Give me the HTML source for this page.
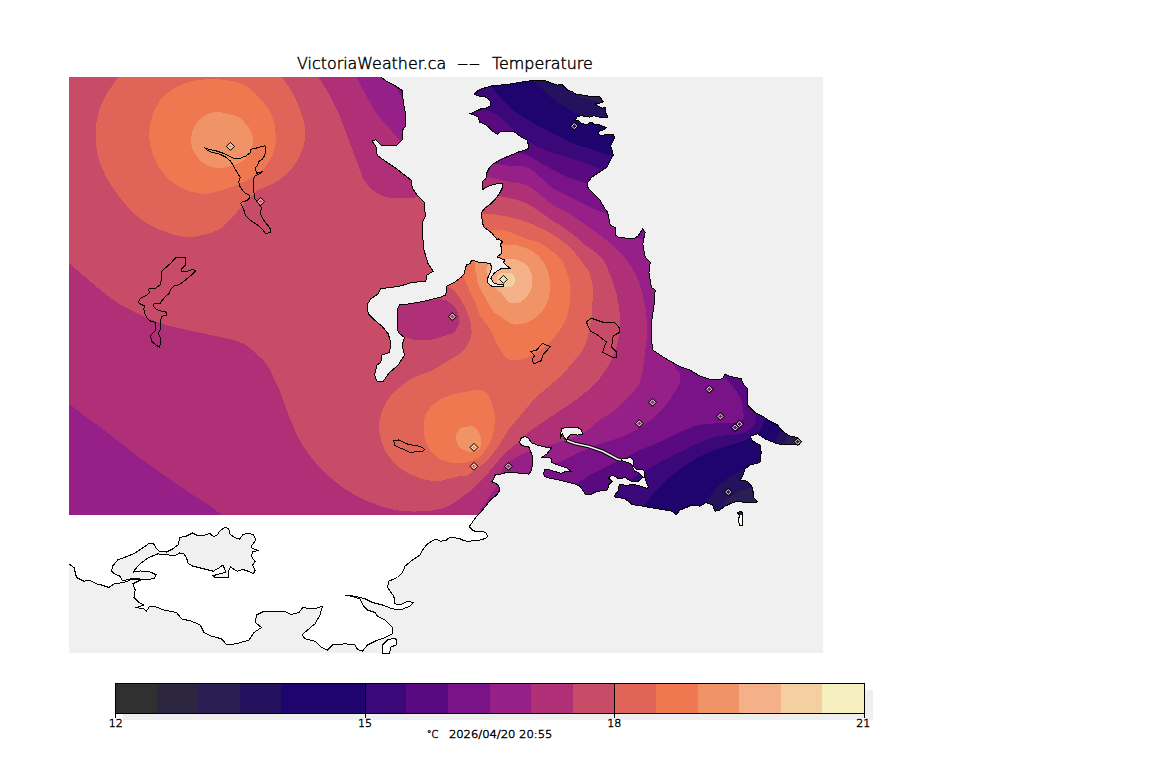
<!DOCTYPE html>
<html><head><meta charset="utf-8"><title>VictoriaWeather.ca -- Temperature</title>
<style>html,body{margin:0;padding:0;background:#fff;}svg{display:block}
.t{font-family:"DejaVu Sans","Liberation Sans",sans-serif;font-weight:200;fill:#000;stroke:#000;stroke-width:0.45px}</style></head>
<body><svg width="1152" height="768" viewBox="0 0 1152 768">
<defs><clipPath id="land"><path d="M69 77 380.8 77 386.4 81.2 394.2 85.1 402 90.3 403.3 102 405.9 115.1 405.9 125.5 402 130.7 402 139.8 396.8 145 381.1 145 375.9 139.8 372 141.1 375.9 146.3 377.2 155.4 386.4 161.9 394.2 167.1 404.6 175 411.1 180.2 412.4 188 417.6 195.8 424.1 202.3 425.4 216.6 422.5 222 422.8 237.5 424.1 250.5 428 263.5 433.2 271.3 427 275 425.8 281.2 412 282.5 399.5 286.2 380.8 288.8 378.2 293.8 370.8 298.8 367 305 368.2 313.8 374.5 320 382 326.2 388.2 333.8 390.8 342.5 389.5 352.5 382 355 380.8 362.5 377 365 374.5 375 377 381.2 383.2 381.2 389.5 372.5 398.2 365 404.5 355 402 345 404.5 337.5 398.2 332.5 397 322.5 397 310 399.5 305 409.5 303.8 424.5 301.2 439.5 297.5 445.8 295 447 286.2 455 281.9 457.3 280.3 461.3 277.2 464.4 273.3 465.2 268.6 466.7 264.7 469.8 263.9 471.4 260.8 474.5 260.8 478.4 262 486.3 262.7 490.5 263.9 491.7 267.8 490.5 271.7 488.6 275.6 487.4 279.5 487.8 282.7 490.9 285.8 494.8 287 503.4 286.2 503.4 284.2 497.2 284.2 494.1 283 492.5 281.1 490.9 278.4 491.7 276.4 494.1 273.3 497.2 270.9 501.1 268.6 505.8 268.2 510.1 268.2 506.6 265.5 503.4 262.3 505 260 502.7 259.2 497.2 256.9 501.9 253 501.9 249.1 500.3 244.4 502.7 242 498.8 238.9 497 239.5 492 233.2 483.9 227 482.5 223.1 481.8 217.6 481.8 212 485.3 207.8 490.9 203.6 495.1 199.4 499.3 193.9 502.1 188.3 502.1 183.4 495.1 184.1 488.1 186.2 482.5 189.7 482.5 181.3 486 178.5 486.7 173 489.3 168 493.4 163.8 500.4 159.6 508.8 156.1 518.5 152 525.5 149.9 529 147.8 528.3 144.3 526.9 140.1 521.3 137.3 517.1 133.8 513 131 506 131 500.4 131.7 497.6 134.5 492.1 131 489.3 127.6 484.4 124.1 479.5 122 478.1 117.1 473.9 115 470.5 113.6 475.3 111.5 480.9 108.8 486.5 108.1 490 106 490.7 101.8 487.9 98.3 484 96.2 479.5 96.2 473.9 94.1 479.5 89.5 492 85.8 507 84.5 522 82 534.5 80.2 543.6 80.2 549.2 82.3 557.6 85.1 561.7 84.4 567.3 89.9 572.9 92 575.7 94.1 585.4 95.5 593.8 96.9 599.4 96.2 603.6 101.8 600 103 595.2 103.9 598 106 602.2 108.1 605 107.4 605.6 112.2 607.7 117.1 599.4 117.1 593.8 115.7 589.6 117.1 585.4 116.4 581.3 115.7 577.1 117.1 575 120.6 578.5 120.6 581.3 123.4 586.8 124.8 589.6 122.7 591.5 122.2 593.8 124.1 599.4 124.8 606.3 127.6 603.6 129.7 599.4 131 598 133.1 600.8 135.9 606.3 134.5 613.3 134.5 614.7 137.3 611.9 142.9 610.5 145.7 611.9 149.9 613.3 155.4 610.5 159.6 607 167 599.5 172 592 177 587 183.2 588.2 188.2 594.5 194.5 599.5 199.5 604.5 208.2 607.8 212.5 610.2 225 616 228 615.2 235 619 237.5 634 238.8 637.8 236.2 642.8 228.8 645.2 232.5 644 237.5 642.8 243.8 645.2 257.5 650.2 262.5 649 272.5 651.5 287.5 655.2 290 654 305 651.5 322.5 651.5 340 652.8 350 664 357.5 679 366.2 690 370 700 376.2 712.5 380 722.5 378.8 725 373.8 729 376 741.2 378.8 743.8 385 747.5 388.8 747.5 405 755 412.5 762.5 416.2 770 421.2 777.5 425 782.5 431.2 790 436.2 797.5 437.5 801.2 441.2 798.8 445 792 444 785 445 777.5 443.8 770 441 765 438.8 757.5 433.8 750 436.2 752.5 441 760 445 761.2 452.5 760 462.5 750 465 745 469 742.5 476.2 740 480 747.5 481.2 752.5 487.5 753.8 497.5 757.5 502 745 502.5 737.5 501.2 730 503.8 725 506.2 720 510 715 511.2 712.5 505 706.2 502.5 700 506.2 692.5 505 687.5 507 680 510 676.2 515 672.5 511.2 665 510 657.5 508.8 650 507.5 643.4 506.3 638.8 505.5 632.5 504.7 628.6 501.6 624.7 498.4 618.4 497.7 614.5 496.9 615.3 493.8 617.7 492.2 618.4 489.1 618.4 486.7 620 484.4 623.1 484.8 627 485.5 632.5 484.4 637.2 485.2 641.9 486.7 646.6 488.3 648.9 487.5 646.6 482.8 645 478.1 644.6 472.7 643.4 469.5 636.4 469.5 634 467.2 633.3 464.1 634 460.9 630.2 457.4 626.3 458.6 622.3 459 619 459.5 621.6 460.2 624.7 461.7 627.8 462.5 631 464 632.5 465.6 633.3 468.8 634.8 471.1 638.8 472.7 641.9 475.8 643 477.3 640.3 479.7 637.2 482 632.5 481.6 627 479.3 625.5 477 623.1 478.1 617.7 478.9 616.9 477.3 612.2 475 608.3 478.1 612.2 481.3 610.6 482.8 608.3 485.2 608.3 487.5 606.7 490.6 602.8 490.6 597.3 491.4 595 492.6 591.5 494.3 585.9 495 583.1 490.8 580.3 486.7 574.8 483.9 566.4 481.8 558 479.7 549.7 478.3 545 476.5 543.4 474.1 544.8 469.9 549.7 469.9 555 471.5 560.8 473.4 566.4 471.3 571.3 471.3 566.4 467.8 558 465.1 551.8 462.3 551.1 458.1 542 457.4 546.9 453.9 551.8 447.6 545 447 538.5 445.5 531.6 442.8 528.1 437.9 524.6 436.5 520.4 438.6 519.7 442.8 521.8 445.5 528.8 446.9 530.2 450.4 532.3 456 532.3 465.7 530.9 471.3 528.8 474.1 521.8 473.4 514.8 472.7 507.9 472 500.9 474.1 495.3 474.8 493.9 478.3 491.8 481.8 495.3 483.2 498.8 485.3 499.5 490.8 496.7 495 491.1 499.2 485.6 506.2 480 513.1 476.9 515.9 472 522.7 469.1 526.6 473 530.5 475.9 531.5 482.7 531.5 485.7 532.5 487.6 536.4 485.7 538.4 478.8 540.3 467.1 541.3 463.2 540.3 459.3 538.4 451.5 537.4 447.6 538.4 446.6 540.3 440.7 541.3 436.8 539.3 432.9 540.3 430 542.3 427.5 543.8 422.5 550 420 555 412.5 560 405 566.2 402.5 572.5 397.5 577.5 388.8 581.2 387.5 587.5 393.8 596.2 395 603.8 400 605 407.5 601.2 413.8 602.5 410 606.2 400 610 392.5 608.8 382.5 605 372.5 602.5 365 598.8 355 596.2 345 595 352.5 596.5 360 599 363.8 606.2 367.5 610 375 612.5 377.5 616.2 385 620 392.5 627.5 392.5 633.8 385 637.5 375 641.2 367.5 645 362.5 651.2 357.5 649.5 355 645 345 643.8 332.5 645 327.5 650 321.5 647.5 315 641.2 305 638.8 302 635 307.5 630 315 623.8 320 615 322.5 606.2 314 608.8 310 608.8 302.8 607.5 299 612.5 291.5 614.5 284 611.2 276.5 611.2 264 611.2 256.5 615 255.2 622.5 261.5 627.5 254 632.5 249 640 236.5 643.8 226.5 644.5 221.5 638.8 211.5 636.2 204 632.5 200.2 625 191.5 621.2 181.5 618.8 176.5 612.5 164 610 154 606.2 149 607 146.5 611.2 144 609 136.5 607.5 144 605 139 602.5 134 597.5 135.2 590 132.8 583.8 141.5 579.5 131.5 579.5 124 582.5 114 583.8 109 587.5 101.5 585 96.5 583.8 89 580 84 581.2 76.5 577.5 74 567.5 69 563.8ZM737.5 512.5 741.2 511.2 743 514 742 520 742.5 525 740 526.2 738.2 520 739.5 516ZM382.5 653 382.5 645 387.5 640 395 638 397 641.2 396.2 645 391 647 389.5 653Z" shape-rendering="crispEdges"/></clipPath>
<clipPath id="dat"><rect x="69" y="77" width="754" height="438"/></clipPath></defs>
<rect x="69" y="77" width="754" height="576" fill="#f0f0f0"/>
<path d="M69 77 380.8 77 386.4 81.2 394.2 85.1 402 90.3 403.3 102 405.9 115.1 405.9 125.5 402 130.7 402 139.8 396.8 145 381.1 145 375.9 139.8 372 141.1 375.9 146.3 377.2 155.4 386.4 161.9 394.2 167.1 404.6 175 411.1 180.2 412.4 188 417.6 195.8 424.1 202.3 425.4 216.6 422.5 222 422.8 237.5 424.1 250.5 428 263.5 433.2 271.3 427 275 425.8 281.2 412 282.5 399.5 286.2 380.8 288.8 378.2 293.8 370.8 298.8 367 305 368.2 313.8 374.5 320 382 326.2 388.2 333.8 390.8 342.5 389.5 352.5 382 355 380.8 362.5 377 365 374.5 375 377 381.2 383.2 381.2 389.5 372.5 398.2 365 404.5 355 402 345 404.5 337.5 398.2 332.5 397 322.5 397 310 399.5 305 409.5 303.8 424.5 301.2 439.5 297.5 445.8 295 447 286.2 455 281.9 457.3 280.3 461.3 277.2 464.4 273.3 465.2 268.6 466.7 264.7 469.8 263.9 471.4 260.8 474.5 260.8 478.4 262 486.3 262.7 490.5 263.9 491.7 267.8 490.5 271.7 488.6 275.6 487.4 279.5 487.8 282.7 490.9 285.8 494.8 287 503.4 286.2 503.4 284.2 497.2 284.2 494.1 283 492.5 281.1 490.9 278.4 491.7 276.4 494.1 273.3 497.2 270.9 501.1 268.6 505.8 268.2 510.1 268.2 506.6 265.5 503.4 262.3 505 260 502.7 259.2 497.2 256.9 501.9 253 501.9 249.1 500.3 244.4 502.7 242 498.8 238.9 497 239.5 492 233.2 483.9 227 482.5 223.1 481.8 217.6 481.8 212 485.3 207.8 490.9 203.6 495.1 199.4 499.3 193.9 502.1 188.3 502.1 183.4 495.1 184.1 488.1 186.2 482.5 189.7 482.5 181.3 486 178.5 486.7 173 489.3 168 493.4 163.8 500.4 159.6 508.8 156.1 518.5 152 525.5 149.9 529 147.8 528.3 144.3 526.9 140.1 521.3 137.3 517.1 133.8 513 131 506 131 500.4 131.7 497.6 134.5 492.1 131 489.3 127.6 484.4 124.1 479.5 122 478.1 117.1 473.9 115 470.5 113.6 475.3 111.5 480.9 108.8 486.5 108.1 490 106 490.7 101.8 487.9 98.3 484 96.2 479.5 96.2 473.9 94.1 479.5 89.5 492 85.8 507 84.5 522 82 534.5 80.2 543.6 80.2 549.2 82.3 557.6 85.1 561.7 84.4 567.3 89.9 572.9 92 575.7 94.1 585.4 95.5 593.8 96.9 599.4 96.2 603.6 101.8 600 103 595.2 103.9 598 106 602.2 108.1 605 107.4 605.6 112.2 607.7 117.1 599.4 117.1 593.8 115.7 589.6 117.1 585.4 116.4 581.3 115.7 577.1 117.1 575 120.6 578.5 120.6 581.3 123.4 586.8 124.8 589.6 122.7 591.5 122.2 593.8 124.1 599.4 124.8 606.3 127.6 603.6 129.7 599.4 131 598 133.1 600.8 135.9 606.3 134.5 613.3 134.5 614.7 137.3 611.9 142.9 610.5 145.7 611.9 149.9 613.3 155.4 610.5 159.6 607 167 599.5 172 592 177 587 183.2 588.2 188.2 594.5 194.5 599.5 199.5 604.5 208.2 607.8 212.5 610.2 225 616 228 615.2 235 619 237.5 634 238.8 637.8 236.2 642.8 228.8 645.2 232.5 644 237.5 642.8 243.8 645.2 257.5 650.2 262.5 649 272.5 651.5 287.5 655.2 290 654 305 651.5 322.5 651.5 340 652.8 350 664 357.5 679 366.2 690 370 700 376.2 712.5 380 722.5 378.8 725 373.8 729 376 741.2 378.8 743.8 385 747.5 388.8 747.5 405 755 412.5 762.5 416.2 770 421.2 777.5 425 782.5 431.2 790 436.2 797.5 437.5 801.2 441.2 798.8 445 792 444 785 445 777.5 443.8 770 441 765 438.8 757.5 433.8 750 436.2 752.5 441 760 445 761.2 452.5 760 462.5 750 465 745 469 742.5 476.2 740 480 747.5 481.2 752.5 487.5 753.8 497.5 757.5 502 745 502.5 737.5 501.2 730 503.8 725 506.2 720 510 715 511.2 712.5 505 706.2 502.5 700 506.2 692.5 505 687.5 507 680 510 676.2 515 672.5 511.2 665 510 657.5 508.8 650 507.5 643.4 506.3 638.8 505.5 632.5 504.7 628.6 501.6 624.7 498.4 618.4 497.7 614.5 496.9 615.3 493.8 617.7 492.2 618.4 489.1 618.4 486.7 620 484.4 623.1 484.8 627 485.5 632.5 484.4 637.2 485.2 641.9 486.7 646.6 488.3 648.9 487.5 646.6 482.8 645 478.1 644.6 472.7 643.4 469.5 636.4 469.5 634 467.2 633.3 464.1 634 460.9 630.2 457.4 626.3 458.6 622.3 459 619 459.5 621.6 460.2 624.7 461.7 627.8 462.5 631 464 632.5 465.6 633.3 468.8 634.8 471.1 638.8 472.7 641.9 475.8 643 477.3 640.3 479.7 637.2 482 632.5 481.6 627 479.3 625.5 477 623.1 478.1 617.7 478.9 616.9 477.3 612.2 475 608.3 478.1 612.2 481.3 610.6 482.8 608.3 485.2 608.3 487.5 606.7 490.6 602.8 490.6 597.3 491.4 595 492.6 591.5 494.3 585.9 495 583.1 490.8 580.3 486.7 574.8 483.9 566.4 481.8 558 479.7 549.7 478.3 545 476.5 543.4 474.1 544.8 469.9 549.7 469.9 555 471.5 560.8 473.4 566.4 471.3 571.3 471.3 566.4 467.8 558 465.1 551.8 462.3 551.1 458.1 542 457.4 546.9 453.9 551.8 447.6 545 447 538.5 445.5 531.6 442.8 528.1 437.9 524.6 436.5 520.4 438.6 519.7 442.8 521.8 445.5 528.8 446.9 530.2 450.4 532.3 456 532.3 465.7 530.9 471.3 528.8 474.1 521.8 473.4 514.8 472.7 507.9 472 500.9 474.1 495.3 474.8 493.9 478.3 491.8 481.8 495.3 483.2 498.8 485.3 499.5 490.8 496.7 495 491.1 499.2 485.6 506.2 480 513.1 476.9 515.9 472 522.7 469.1 526.6 473 530.5 475.9 531.5 482.7 531.5 485.7 532.5 487.6 536.4 485.7 538.4 478.8 540.3 467.1 541.3 463.2 540.3 459.3 538.4 451.5 537.4 447.6 538.4 446.6 540.3 440.7 541.3 436.8 539.3 432.9 540.3 430 542.3 427.5 543.8 422.5 550 420 555 412.5 560 405 566.2 402.5 572.5 397.5 577.5 388.8 581.2 387.5 587.5 393.8 596.2 395 603.8 400 605 407.5 601.2 413.8 602.5 410 606.2 400 610 392.5 608.8 382.5 605 372.5 602.5 365 598.8 355 596.2 345 595 352.5 596.5 360 599 363.8 606.2 367.5 610 375 612.5 377.5 616.2 385 620 392.5 627.5 392.5 633.8 385 637.5 375 641.2 367.5 645 362.5 651.2 357.5 649.5 355 645 345 643.8 332.5 645 327.5 650 321.5 647.5 315 641.2 305 638.8 302 635 307.5 630 315 623.8 320 615 322.5 606.2 314 608.8 310 608.8 302.8 607.5 299 612.5 291.5 614.5 284 611.2 276.5 611.2 264 611.2 256.5 615 255.2 622.5 261.5 627.5 254 632.5 249 640 236.5 643.8 226.5 644.5 221.5 638.8 211.5 636.2 204 632.5 200.2 625 191.5 621.2 181.5 618.8 176.5 612.5 164 610 154 606.2 149 607 146.5 611.2 144 609 136.5 607.5 144 605 139 602.5 134 597.5 135.2 590 132.8 583.8 141.5 579.5 131.5 579.5 124 582.5 114 583.8 109 587.5 101.5 585 96.5 583.8 89 580 84 581.2 76.5 577.5 74 567.5 69 563.8ZM737.5 512.5 741.2 511.2 743 514 742 520 742.5 525 740 526.2 738.2 520 739.5 516ZM382.5 653 382.5 645 387.5 640 395 638 397 641.2 396.2 645 391 647 389.5 653Z" fill="#fff" shape-rendering="crispEdges"/>
<g clip-path="url(#land)"><g clip-path="url(#dat)" shape-rendering="crispEdges"><rect x="69" y="77" width="754" height="438" fill="#303030"/><path fill="#2d2640" fill-rule="evenodd" d="M68 75 662 75 688 84.2 707 91.8 725 100.1 742 109.4 755 117.6 767 126.1 778 135 789 145 799 155.2 808.3 166 817 177.4 825 189.4 825 470 815 490.4 805 508.5 799.9 517 67 517 67 75Z"/><path fill="#2a1e52" fill-rule="evenodd" d="M68 75 597.4 75 612 82.5 622 86.8 682 105.1 701 112.4 718 120.3 736 130.4 753 142 768.7 155 782.8 169 795.4 184 807.1 201 816.6 218 825 236.8 825 404.1 816 426 810.8 444 808 451 799.3 466 790.5 483 785 491.7 778 500.2 765.7 512 761.4 517 67 517 67 75Z"/><path fill="#25125e" fill-rule="evenodd" d="M68 75 549.1 75 552 78 568 90.8 577 95.8 599 102.2 611 106.3 646 114.7 669 121.4 693 130.4 714 140.7 733.8 153 751.6 167 767.7 183 781.4 200 793.5 219 803.8 240 811.6 262 817 284.3 820.1 307 821.1 330 819.6 353 816 374 811.9 389 806.9 402 799.7 416 790.7 429 788.5 433 782.3 449 779.2 459 775.5 467 768.8 477 765 481.2 761.6 484 758 485.7 741 490.6 731.1 496 727 499 724.8 502 723.5 505 722 510 721 517 67 517 67 75Z"/><path fill="#20046e" fill-rule="evenodd" d="M68 75 526.8 75 532 80.4 541 87.9 554.2 100 566 107.7 575 112.7 580 114.5 606 121.3 657 136.4 678 144.2 697 153.1 715 163.7 731 175.4 745.9 189 759.1 204 770.3 220 780.2 238 788.3 257 794.5 277 799.1 299 801.7 322 802.2 345 800.6 366 797.4 384 792.8 400 783.2 424 773 446.1 768 453 760 460 753 464.5 732.1 475 726 479.3 720 484.6 712.3 493 706.5 501 703.4 507 699.9 517 67 517 67 75Z"/><path fill="#3a0878" fill-rule="evenodd" d="M68 75 464.5 75 469 79.3 473 81.5 485 84 490 85.8 492.7 88 502.1 100 512 109.2 519 114.5 538 126 563.6 139 574.9 144 633 163.1 649 169.6 665 177.4 683 187.6 697.8 198 711 209.5 722.2 222 728.9 231 735.2 241 740.5 251 745.5 262 750 274 753.7 286 760.3 314 767 356.5 768.7 372 769.4 384 769 396 767.7 407 765.8 416 761.9 428 758 432.9 751 437.3 739 442.6 721 447.7 703 454.8 693 460.3 676.1 472 663.2 483 650.1 497 644.5 506 641.1 517 67 517 67 75Z"/><path fill="#5a0a80" fill-rule="evenodd" d="M68 75 434.6 75 441 88.2 446.3 97 452 103.9 458 108.5 463 110.7 469 111.9 474 111.7 485 109.8 489 110.5 502 118 511 127.6 517 132.9 526.4 140 536.1 146 549 151.8 581 161.6 596 167.6 618 174.5 630.7 180 656.3 194 674.4 205 687 214.3 698.2 225 708.5 238 717.4 253 724.9 270 731.4 290 735.8 308 744.6 350 753.3 380 755.5 390 756.4 398 756.5 406 755.3 421 754 425.5 752.1 428 749.5 430 742 433.4 737 434.3 720 435.8 711 438.1 702 441.3 662 461 600.1 498 594.5 503 582.7 517 67 517 67 75Z"/><path fill="#7a1288" fill-rule="evenodd" d="M68 75 412.2 75 423.2 96 431 108 439 117.1 449 124.7 460 130 484 137.7 502.3 148 508.8 151 513 152.3 523 154 529 156 553 170.1 567 176.9 595 186 612.3 191 620 195.5 640 209.7 666 224.4 673 229.6 678.8 235 685 242.4 690.6 251 695.6 261 700.3 273 704.6 287 708.5 303 711.3 318 715.7 348 719.1 363 721.5 370 724.4 376 736 390.4 740 397 741.8 402 742.9 408 743.7 416 743 419.7 741 421.6 737 422.7 706 423.8 696 425.7 681 431.5 660 441.9 637.5 451 592 474 575.7 484 567 490.3 554 500.9 547.6 508 540.9 517 67 517 67 75Z"/><path fill="#962088" fill-rule="evenodd" d="M68 75 388.1 75 396 87.4 408.1 109 414.8 119 420.7 126 426.6 132 433 137.5 439 141.7 453 149 489 162.7 510 166 523 166.1 529 168 534.7 172 548.6 185 555 189.7 590 207 604 213.1 609 216.8 618.7 227 625 232 631 235.1 650.5 243 656 246.3 660 250 665.2 258 669.8 270 675.9 294 678.8 310 679.9 323 679.8 334 678.6 342 674.8 359 674.2 364 675 368.1 679.4 373 680.6 376 680.2 381 677.8 387 670.3 399 660.8 411 652.4 419 641.1 427 632 432.2 621 437.3 599 444.1 580 452 545.2 469 535.8 475 528.8 481 522.6 488 515 500 505.4 517 67 517 67 75Z"/><path fill="#b03078" fill-rule="evenodd" d="M68 75 354.7 75 357 78.4 373 107.9 378.5 116 400.6 141 414 153.7 421 159.2 427 162.8 433 165.6 447 170.1 460 172.8 486 176.5 510 182 522 183.8 528 185.9 535 190.5 552 204.6 571.6 215 601 235.8 610 243 621.5 254 626.5 260 630.7 266 634.9 273 638.2 280 642.7 294 646.1 312 647.2 326 646.5 341 642.6 372 641 379 638.6 385 635.9 389 627.9 398 618 407.8 613 411.6 600 419.5 589 429 583.5 433 577.5 436 570 438.8 527 452.1 515.1 458 507.5 463 504 466.4 501.8 470 497.3 484 495.6 488 490.9 494 475.4 517 224.5 517 210.5 506 187 491.2 142.4 460 110 434.4 67 402.6 67 75Z"/><path fill="#c84c68" fill-rule="evenodd" d="M68 75 317.1 75 329 94 339 114 362.6 177 365.5 182 369 186.6 372.6 190 376.7 193 385.5 197 394 198.4 413 197.7 435 195.2 449 194.7 459 195.2 474 197 486 195.6 494 195.7 505 197 517 199.8 525 202.7 532 206.3 551.6 220 567 229.9 573.8 235 585 245 596 252.6 600 256 603 259.6 605.7 264 611.7 278 616.7 295 619.4 310 620 323 618.8 337 615.8 350 611.2 361 606.5 369 600.1 378 594.8 384 588.5 390 577.3 399 530 430.9 519 442 510 449 502 456.3 485 476.8 480 481.9 467 493.8 450 505.3 442 508.6 432 510.5 415 511.6 402 511 392 509.4 381 506.3 368 501.4 356 495.8 342 487 328.1 476 318.1 466 307.8 453 301.2 443 295.6 432 289.6 418 279 389 270 370.2 267 365 263.2 360 253 350.7 245 344.5 237 341.1 222 337.3 190 330.7 169 325.8 153 320.3 137 313.3 122 305.5 110 297.7 96.7 287 67 261.4 67 75ZM431.1 300 400 302 393 304.3 387.9 308 384.7 313 384 316 384 319 385.6 324 389.6 329 395 332.7 410 338.7 416 340.1 424 340.5 431 339.9 453 333.3 455 331.6 456.8 329 459.6 322 458.9 316 456.2 309 453 305.4 445.9 300 441 299.1 432 299.9Z"/><path fill="#e06458" fill-rule="evenodd" d="M123 75.9 141.6 75 280.4 75 289 87.1 294.1 96 299.2 107 303.4 119 304.9 127 305.2 136 304.2 144 301.7 152 295.2 164 290.7 170 286.8 174 281 178.6 274 183.1 270 185.1 260 188.9 255.2 192 249.2 198 230 220 223 226.6 218 229.9 212 232.6 205 234.6 195 236.5 188 237.1 182 236.6 176 235.4 160 229.9 149 224.6 140.5 219 132 211.5 123.4 202 114.3 190 106.2 177 101.4 167 97.9 156 96 145 95.5 133 96.5 122 98.9 111 102.8 101 108.3 91 118 77.8 120 76.5 122.4 76ZM464 213.9 471 213 490 213.8 505 216.1 519 219.5 532 224.1 545 230 553.5 235 567 244.3 573 250.3 585.9 267 588.5 271 590.6 276 592.4 284 593.2 293 591.4 318 589.6 329 586.9 340 584 347.6 580.1 354 561 376.2 539 394.7 531 402.9 509 429.1 496.5 449 487.6 460 477 469.2 466 476.3 459 476.2 441 480.9 430 480.6 420 478.4 409.7 474 399.9 468 392.3 461 385.9 452 381.5 442 379.3 432 379.4 422 381.4 413 385.8 403 390.5 396 397 389.4 404 383.7 411.2 379 417 376.1 431 371.1 458 355 461.8 352 465 348.6 468 344.4 470 340.3 471.6 333 471.2 324 467 312 463.4 304 458 295.2 453 289.5 448 286.7 440 283.9 437.6 282 435 277 434.1 270 433.3 243 434.3 236 436.2 231 439.9 226 446.2 221 454 217 463.5 214Z"/><path fill="#f07850" fill-rule="evenodd" d="M208 79 220 79.1 236 81.8 245 85.3 253 91.2 264 103 268.3 109 271.5 115 273.8 121 275.1 127 275.9 140 274.4 150 270.9 159 264.3 168 257.6 174 246 181 228 188.5 213 192.7 207 193.6 202 193.6 191 191.8 181 187.9 173 182.9 164.7 175 158.1 166 153.4 156 149.8 143 149 133 150.7 122 154.5 110 159 102 166.1 94 174.3 88 185 83.2 195 80.5 207.9 79ZM494 229.9 500 229.4 507 231 529 239.8 539 242.6 546 246.6 557 255 562 260.4 565.7 268 569.4 281 570.6 292 569.1 308 566.5 318 562 327.5 554 337.7 544 347.4 531 355.7 526 358.1 521 359.6 515 360.3 509 359.6 505 356.7 501 351.1 497 344 489.6 328 482.4 319 479.3 314 475.2 302 465.8 283 460 263 459.4 256 460.3 250 462.9 244 466.9 239 472 235.1 477 232.9 493.6 230ZM475 389.9 481 390.1 484 391.3 486.5 393 490 398.2 493.6 408 494.6 414 494.5 427 492.8 435 489.5 444 486.6 449 483.2 453 478 458.1 474 460.3 465 462.6 457 463.4 449 462.3 441.9 460 436.9 457 432.4 453 428.4 448 425.9 443 424.4 436 423.8 426 424.3 419 425.8 414 428.2 410 432.8 405 437 401.5 442 398.5 452 394.4 474.3 390Z"/><path fill="#f09468" fill-rule="evenodd" d="M211 112.8 216 112.1 221 112.4 229 113.9 236 116 240 118 243 120.4 249 128 251.7 133 252.8 137 253 141 252.3 146 250.7 151 248.6 155 245.2 159 241 162.2 235 165 227 167.2 220 168 214 167.5 208.3 166 204 163.7 199.8 160 195.2 154 192.2 148 191.2 143 191.4 136 192.8 130 195.2 125 199.2 120 205 115.4 210.4 113ZM502 245 508 244.5 517 245.3 526 248 532 251 538.4 256 542.7 261 546.1 267 548.9 275 550.4 283 550.3 290 548.8 298 545.8 306 541.8 312 537 316.7 530 321.2 523 323.9 517 324.7 511 323.6 494 312.2 491.6 309 479.9 288 477.5 282 474.5 265 474.8 261 476.1 258 479 255 483 252.6 496 246.9 501.9 245ZM471 426 474 426.7 477.4 430 479.6 434 481 439 481.3 444 480.4 448 478 451 475 451.9 468 451.5 462 449 459.5 447 458 445 455.8 439 456.3 434 459.1 429 461 427.9 470.7 426Z"/><path fill="#f4b088" fill-rule="evenodd" d="M506 259 511 258.7 515 259.3 520 260.9 524 263 526.4 265 528.9 268 531.8 275 532.3 279 531.9 285 531 289.4 529.5 293 527 296.4 523 300.1 519 302.5 516 303.5 511 303.4 507.5 301 501.3 293 495.3 288 492.6 285 488.9 279 486.7 273 486.4 270 486.9 267 488 264.8 490 262.7 494 260.9 505.7 259Z"/><path fill="#f4d0a0" fill-rule="evenodd" d="M502 272.8 510 272.8 512 273.5 513.8 275 514.9 278 515 281 514.3 284 512.9 286 510 287.2 505 287.5 502 287.2 499 285.8 497.2 282 497.1 278 498.2 275 501.1 273Z"/></g></g>
<path d="M216.8 535.6 220.3 530.4 225.5 527.3 228.7 528.7 229.9 533.9 234.2 537.4 239.4 539.1 242.9 534.8 248.1 533 253.3 534.8 255.9 540 253.3 543.4 251 546 252.5 548.6 257.6 550.4 252.5 552 251.5 556.5 255.1 561.7 252.5 565 255.1 570.3 253.3 573.8 248.1 571.2 242.9 569.5 237.6 571.2 234 569.5 230.7 566.9 228 572.1 228 577.3 215 577.3 213.3 575.6 221 573.5 226 572 222.9 565.1 218 568.5 213.3 571.2 202.9 568.6 192.5 566 188.1 563.4 186.4 557.3 183.8 553.9 179.5 553 175.1 555.6 166.4 554.7 157.8 553.9 149.1 557.3 140.4 563.4 134.3 570.3 133.4 572.1 140.4 570.9 150.8 572.1 156 574.7 154.3 578.2 147.3 579.9 140.4 579 133.4 578.2 126.5 579.9 122.2 580.8 120.4 576.4 114.3 573.8 111.7 571.2 112.6 566 117.8 559.9 124.8 557.3 133.4 553.9 140.4 549.5 149.1 543.4 153.4 543.4 156 547.8 159.5 551.3 166.4 552.1 173.4 548.6 178.6 544.3 179.5 537.4 185.5 536.5 192.5 533 197.7 535.6 203 535.6 209.8 533.5 213.3 536.5Z" fill="#f0f0f0" stroke="#000" stroke-width="1" shape-rendering="crispEdges"/>
<g fill="none" stroke="#000" stroke-width="1" shape-rendering="crispEdges"><path d="M737.5 512.5 741.2 511.2 743 514 742 520 742.5 525 740 526.2 738.2 520 739.5 516Z"/><path d="M382.5 653 382.5 645 387.5 640 395 638 397 641.2 396.2 645 391 647 389.5 653Z"/></g>
<path d="M380.8 77 386.4 81.2 394.2 85.1 402 90.3 403.3 102 405.9 115.1 405.9 125.5 402 130.7 402 139.8 396.8 145 381.1 145 375.9 139.8 372 141.1 375.9 146.3 377.2 155.4 386.4 161.9 394.2 167.1 404.6 175 411.1 180.2 412.4 188 417.6 195.8 424.1 202.3 425.4 216.6 422.5 222 422.8 237.5 424.1 250.5 428 263.5 433.2 271.3 427 275 425.8 281.2 412 282.5 399.5 286.2 380.8 288.8 378.2 293.8 370.8 298.8 367 305 368.2 313.8 374.5 320 382 326.2 388.2 333.8 390.8 342.5 389.5 352.5 382 355 380.8 362.5 377 365 374.5 375 377 381.2 383.2 381.2 389.5 372.5 398.2 365 404.5 355 402 345 404.5 337.5 398.2 332.5 397 322.5 397 310 399.5 305 409.5 303.8 424.5 301.2 439.5 297.5 445.8 295 447 286.2 455 281.9 457.3 280.3 461.3 277.2 464.4 273.3 465.2 268.6 466.7 264.7 469.8 263.9 471.4 260.8 474.5 260.8 478.4 262 486.3 262.7 490.5 263.9 491.7 267.8 490.5 271.7 488.6 275.6 487.4 279.5 487.8 282.7 490.9 285.8 494.8 287 503.4 286.2 503.4 284.2 497.2 284.2 494.1 283 492.5 281.1 490.9 278.4 491.7 276.4 494.1 273.3 497.2 270.9 501.1 268.6 505.8 268.2 510.1 268.2 506.6 265.5 503.4 262.3 505 260 502.7 259.2 497.2 256.9 501.9 253 501.9 249.1 500.3 244.4 502.7 242 498.8 238.9 497 239.5 492 233.2 483.9 227 482.5 223.1 481.8 217.6 481.8 212 485.3 207.8 490.9 203.6 495.1 199.4 499.3 193.9 502.1 188.3 502.1 183.4 495.1 184.1 488.1 186.2 482.5 189.7 482.5 181.3 486 178.5 486.7 173 489.3 168 493.4 163.8 500.4 159.6 508.8 156.1 518.5 152 525.5 149.9 529 147.8 528.3 144.3 526.9 140.1 521.3 137.3 517.1 133.8 513 131 506 131 500.4 131.7 497.6 134.5 492.1 131 489.3 127.6 484.4 124.1 479.5 122 478.1 117.1 473.9 115 470.5 113.6 475.3 111.5 480.9 108.8 486.5 108.1 490 106 490.7 101.8 487.9 98.3 484 96.2 479.5 96.2 473.9 94.1 479.5 89.5 492 85.8 507 84.5 522 82 534.5 80.2 543.6 80.2 549.2 82.3 557.6 85.1 561.7 84.4 567.3 89.9 572.9 92 575.7 94.1 585.4 95.5 593.8 96.9 599.4 96.2 603.6 101.8 600 103 595.2 103.9 598 106 602.2 108.1 605 107.4 605.6 112.2 607.7 117.1 599.4 117.1 593.8 115.7 589.6 117.1 585.4 116.4 581.3 115.7 577.1 117.1 575 120.6 578.5 120.6 581.3 123.4 586.8 124.8 589.6 122.7 591.5 122.2 593.8 124.1 599.4 124.8 606.3 127.6 603.6 129.7 599.4 131 598 133.1 600.8 135.9 606.3 134.5 613.3 134.5 614.7 137.3 611.9 142.9 610.5 145.7 611.9 149.9 613.3 155.4 610.5 159.6 607 167 599.5 172 592 177 587 183.2 588.2 188.2 594.5 194.5 599.5 199.5 604.5 208.2 607.8 212.5 610.2 225 616 228 615.2 235 619 237.5 634 238.8 637.8 236.2 642.8 228.8 645.2 232.5 644 237.5 642.8 243.8 645.2 257.5 650.2 262.5 649 272.5 651.5 287.5 655.2 290 654 305 651.5 322.5 651.5 340 652.8 350 664 357.5 679 366.2 690 370 700 376.2 712.5 380 722.5 378.8 725 373.8 729 376 741.2 378.8 743.8 385 747.5 388.8 747.5 405 755 412.5 762.5 416.2 770 421.2 777.5 425 782.5 431.2 790 436.2 797.5 437.5 801.2 441.2 798.8 445 792 444 785 445 777.5 443.8 770 441 765 438.8 757.5 433.8 750 436.2 752.5 441 760 445 761.2 452.5 760 462.5 750 465 745 469 742.5 476.2 740 480 747.5 481.2 752.5 487.5 753.8 497.5 757.5 502 745 502.5 737.5 501.2 730 503.8 725 506.2 720 510 715 511.2 712.5 505 706.2 502.5 700 506.2 692.5 505 687.5 507 680 510 676.2 515 672.5 511.2 665 510 657.5 508.8 650 507.5 643.4 506.3 638.8 505.5 632.5 504.7 628.6 501.6 624.7 498.4 618.4 497.7 614.5 496.9 615.3 493.8 617.7 492.2 618.4 489.1 618.4 486.7 620 484.4 623.1 484.8 627 485.5 632.5 484.4 637.2 485.2 641.9 486.7 646.6 488.3 648.9 487.5 646.6 482.8 645 478.1 644.6 472.7 643.4 469.5 636.4 469.5 634 467.2 633.3 464.1 634 460.9 630.2 457.4 626.3 458.6 622.3 459 619 459.5 621.6 460.2 624.7 461.7 627.8 462.5 631 464 632.5 465.6 633.3 468.8 634.8 471.1 638.8 472.7 641.9 475.8 643 477.3 640.3 479.7 637.2 482 632.5 481.6 627 479.3 625.5 477 623.1 478.1 617.7 478.9 616.9 477.3 612.2 475 608.3 478.1 612.2 481.3 610.6 482.8 608.3 485.2 608.3 487.5 606.7 490.6 602.8 490.6 597.3 491.4 595 492.6 591.5 494.3 585.9 495 583.1 490.8 580.3 486.7 574.8 483.9 566.4 481.8 558 479.7 549.7 478.3 545 476.5 543.4 474.1 544.8 469.9 549.7 469.9 555 471.5 560.8 473.4 566.4 471.3 571.3 471.3 566.4 467.8 558 465.1 551.8 462.3 551.1 458.1 542 457.4 546.9 453.9 551.8 447.6 545 447 538.5 445.5 531.6 442.8 528.1 437.9 524.6 436.5 520.4 438.6 519.7 442.8 521.8 445.5 528.8 446.9 530.2 450.4 532.3 456 532.3 465.7 530.9 471.3 528.8 474.1 521.8 473.4 514.8 472.7 507.9 472 500.9 474.1 495.3 474.8 493.9 478.3 491.8 481.8 495.3 483.2 498.8 485.3 499.5 490.8 496.7 495 491.1 499.2 485.6 506.2 480 513.1 476.9 515.9 472 522.7 469.1 526.6 473 530.5 475.9 531.5 482.7 531.5 485.7 532.5 487.6 536.4 485.7 538.4 478.8 540.3 467.1 541.3 463.2 540.3 459.3 538.4 451.5 537.4 447.6 538.4 446.6 540.3 440.7 541.3 436.8 539.3 432.9 540.3 430 542.3 427.5 543.8 422.5 550 420 555 412.5 560 405 566.2 402.5 572.5 397.5 577.5 388.8 581.2 387.5 587.5 393.8 596.2 395 603.8 400 605 407.5 601.2 413.8 602.5 410 606.2 400 610 392.5 608.8 382.5 605 372.5 602.5 365 598.8 355 596.2 345 595 352.5 596.5 360 599 363.8 606.2 367.5 610 375 612.5 377.5 616.2 385 620 392.5 627.5 392.5 633.8 385 637.5 375 641.2 367.5 645 362.5 651.2 357.5 649.5 355 645 345 643.8 332.5 645 327.5 650 321.5 647.5 315 641.2 305 638.8 302 635 307.5 630 315 623.8 320 615 322.5 606.2 314 608.8 310 608.8 302.8 607.5 299 612.5 291.5 614.5 284 611.2 276.5 611.2 264 611.2 256.5 615 255.2 622.5 261.5 627.5 254 632.5 249 640 236.5 643.8 226.5 644.5 221.5 638.8 211.5 636.2 204 632.5 200.2 625 191.5 621.2 181.5 618.8 176.5 612.5 164 610 154 606.2 149 607 146.5 611.2 144 609 136.5 607.5 144 605 139 602.5 134 597.5 135.2 590 132.8 583.8 141.5 579.5 131.5 579.5 124 582.5 114 583.8 109 587.5 101.5 585 96.5 583.8 89 580 84 581.2 76.5 577.5 74 567.5 69 563.8" fill="none" stroke="#000" stroke-width="1" shape-rendering="crispEdges"/>
<path d="M565.5 440 574.8 443.6 588.7 446.4 602.6 451.3 612 456.3 617 459 621 460" fill="none" stroke="#000" stroke-width="3.6" stroke-linejoin="round"/>
<path d="M565.5 440 574.8 443.6 588.7 446.4 602.6 451.3 612 456.3 617 459 621 460" fill="none" stroke="#f0f0f0" stroke-width="1.6"/>
<path d="M561.5 428.1 577.6 427.4 581.7 430.2 582.4 434.4 577.6 435.1 570.6 434.4 567.8 437.9 566.4 440.7 563.6 436.5 562.2 433.7 560.1 438.6Z" fill="#f0f0f0" stroke="#000" stroke-width="1" shape-rendering="crispEdges"/>
<g fill="none" stroke="#000" stroke-width="1" shape-rendering="crispEdges"><path d="M205.2 148 208.5 149.2 215.5 150.7 223.7 153.4 229.2 156.2 233.3 158.2 240.1 158.2 245.6 156.2 250.3 152.8 251 149.3 256.5 148 264.7 145.9 266 146.5 265.4 151.4 264.7 155.5 262 159.6 258.5 161.6 257.9 165.1 255.1 167.8 256.5 173.3 262.6 171.6 259 173.9 255.1 176 253.1 180.1 253.1 186.9 254.4 195.1 255.1 199.2 258.5 203.3 261.3 207.4 260.6 214.3 263.3 219.7 268.8 226.6 270.4 229.3 270.2 232.7 265.4 233.4 262.6 229.3 257.9 225.2 249.7 219.7 245.6 215.6 243.5 208.8 240.8 203.3 242.1 202 246.9 200.6 249.7 197.9 249 195.1 244.2 192.4 240.1 186.9 238.7 181.5 240.1 177.4 236 170.5 230.5 161 226.4 157.5 219.6 154.1 211.4 152.1 206.6 150Z"/><path d="M175.8 257.5 185.3 257.5 185.3 265 181.9 268.4 181.2 271.2 186 271.9 192.2 269.4 195.6 270.8 192.8 273.9 188.7 277.3 184.6 280.7 179.2 284.8 173.7 286.2 170.3 289.6 169.6 293 165.5 296.4 162.1 300.5 160.1 303.3 153.9 304 153.2 306 156.6 309.4 162.8 311.5 166.6 312.2 166.2 315.3 161.4 316.3 160.7 321 160 330.6 158 333.3 160 336.7 160.3 342.9 159.8 347.3 156 345 151.9 341.5 150.5 335.4 153.2 332.7 155.3 330.6 155.3 322.4 150.5 321 147.1 318.3 145 314.2 143.7 308.7 145 306 141.6 304.6 138.2 302.6 140.2 298.5 143.7 296.4 147.1 295.1 149.8 292.3 148.4 289.6 149.8 288.3 155.3 288.3 160.1 284.8 161.4 279.4 161.7 271.2 165.5 267.8 171 263Z"/><path d="M393.7 440.8 398.5 440 408.3 444.4 420.4 446.4 424.8 449.3 422.9 451.3 415.6 451.7 410.7 453 403.4 449.3 394.9 445.7Z"/><path d="M530.3 351.5 536 350.6 542.6 343.3 550.4 346.8 543.4 354.1 540.8 361.1 533.8 363.7 532 359 534.7 355.8Z"/><path d="M586.2 321.8 591.4 318.3 604.5 322.7 615 322.7 619.4 327.9 619.4 332.5 613.2 335.8 611.5 347.1 616.7 352.4 616.7 357.6 613 357.6 602.8 352.4 603.6 348.9 606.3 341.9 597.5 334.9 590.6 331.4Z"/></g>
<g fill="none" stroke="#000" stroke-width="1"><path d="M230.4 142.4L234.4 146.4L230.4 150.4L226.4 146.4Z"/><path d="M260.6 197.5L264.6 201.5L260.6 205.5L256.6 201.5Z"/><path d="M452.4 312.6L456.4 316.6L452.4 320.6L448.4 316.6Z"/><path d="M503.4 275.4L507.4 279.4L503.4 283.4L499.4 279.4Z"/><path d="M574.3 122.2L578.3 126.2L574.3 130.2L570.3 126.2Z"/><path d="M474 443.4L478 447.4L474 451.4L470 447.4Z"/><path d="M474 462.3L478 466.3L474 470.3L470 466.3Z"/><path d="M508.4 462.4L512.4 466.4L508.4 470.4L504.4 466.4Z"/><path d="M709.3 385.2L713.3 389.2L709.3 393.2L705.3 389.2Z"/><path d="M652.5 398.3L656.5 402.3L652.5 406.3L648.5 402.3Z"/><path d="M639.3 419.5L643.3 423.5L639.3 427.5L635.3 423.5Z"/><path d="M720.4 412.4L724.4 416.4L720.4 420.4L716.4 416.4Z"/><path d="M735.2 423.5L739.2 427.5L735.2 431.5L731.2 427.5Z"/><path d="M739.6 420.1L743.6 424.1L739.6 428.1L735.6 424.1Z"/><path d="M797.7 437.7L801.7 441.7L797.7 445.7L793.7 441.7Z"/><path d="M728.3 488.1L732.3 492.1L728.3 496.1L724.3 492.1Z"/></g>
<g fill="none" stroke="#fff6cc" stroke-width="0.9"><path d="M230.4 143.9L232.9 146.4L230.4 148.9L227.9 146.4Z"/><path d="M260.6 199L263.1 201.5L260.6 204L258.1 201.5Z"/><path d="M452.4 314.1L454.9 316.6L452.4 319.1L449.9 316.6Z"/><path d="M503.4 276.9L505.9 279.4L503.4 281.9L500.9 279.4Z"/><path d="M574.3 123.7L576.8 126.2L574.3 128.7L571.8 126.2Z"/><path d="M474 444.9L476.5 447.4L474 449.9L471.5 447.4Z"/><path d="M474 463.8L476.5 466.3L474 468.8L471.5 466.3Z"/><path d="M508.4 463.9L510.9 466.4L508.4 468.9L505.9 466.4Z"/><path d="M709.3 386.7L711.8 389.2L709.3 391.7L706.8 389.2Z"/><path d="M652.5 399.8L655 402.3L652.5 404.8L650 402.3Z"/><path d="M639.3 421L641.8 423.5L639.3 426L636.8 423.5Z"/><path d="M720.4 413.9L722.9 416.4L720.4 418.9L717.9 416.4Z"/><path d="M735.2 425L737.7 427.5L735.2 430L732.7 427.5Z"/><path d="M739.6 421.6L742.1 424.1L739.6 426.6L737.1 424.1Z"/><path d="M797.7 439.2L800.2 441.7L797.7 444.2L795.2 441.7Z"/><path d="M728.3 489.6L730.8 492.1L728.3 494.6L725.8 492.1Z"/></g>
<rect x="123" y="690" width="750" height="30" fill="#efefef"/>
<g shape-rendering="crispEdges"><rect x="115" y="683" width="42.2" height="30" fill="#303030"/><rect x="156.6" y="683" width="42.2" height="30" fill="#2d2640"/><rect x="198.2" y="683" width="42.2" height="30" fill="#2a1e52"/><rect x="239.8" y="683" width="42.2" height="30" fill="#25125e"/><rect x="281.4" y="683" width="42.2" height="30" fill="#20046e"/><rect x="323.1" y="683" width="42.2" height="30" fill="#20046e"/><rect x="364.7" y="683" width="42.2" height="30" fill="#3a0878"/><rect x="406.3" y="683" width="42.2" height="30" fill="#5a0a80"/><rect x="447.9" y="683" width="42.2" height="30" fill="#7a1288"/><rect x="489.5" y="683" width="42.2" height="30" fill="#962088"/><rect x="531.1" y="683" width="42.2" height="30" fill="#b03078"/><rect x="572.7" y="683" width="42.2" height="30" fill="#c84c68"/><rect x="614.3" y="683" width="42.2" height="30" fill="#e06458"/><rect x="655.9" y="683" width="42.2" height="30" fill="#f07850"/><rect x="697.6" y="683" width="42.2" height="30" fill="#f09468"/><rect x="739.2" y="683" width="42.2" height="30" fill="#f4b088"/><rect x="780.8" y="683" width="42.2" height="30" fill="#f4d0a0"/><rect x="822.4" y="683" width="42.2" height="30" fill="#f6f0c0"/></g>
<g shape-rendering="crispEdges" stroke="#000" stroke-width="1" fill="none"><rect x="115.5" y="683.5" width="749" height="30"/>
<path d="M365.5 684V717.5M614.5 684V717.5M115.5 713V717.5M864.5 713V717.5"/></g>
<text class="t" x="297" y="69.2" font-size="16" textLength="149.3" lengthAdjust="spacingAndGlyphs">VictoriaWeather.ca</text>
<text class="t" x="456.7" y="69.2" font-size="16" textLength="23.6" lengthAdjust="spacingAndGlyphs">--</text>
<text class="t" x="492" y="69.2" font-size="16" textLength="100.8" lengthAdjust="spacingAndGlyphs">Temperature</text>
<text class="t" x="115.8" y="727" font-size="11" text-anchor="middle">12</text>
<text class="t" x="365" y="727" font-size="11" text-anchor="middle">15</text>
<text class="t" x="614.3" y="727" font-size="11" text-anchor="middle">18</text>
<text class="t" x="863.3" y="727" font-size="11" text-anchor="middle">21</text>
<text class="t" x="426.7" y="737.8" font-size="10.7" textLength="11.7" lengthAdjust="spacingAndGlyphs">&#176;C</text>
<text class="t" x="448.9" y="737.8" font-size="10.7" textLength="103.5" lengthAdjust="spacingAndGlyphs">2026/04/20 20:55</text>
</svg></body></html>
